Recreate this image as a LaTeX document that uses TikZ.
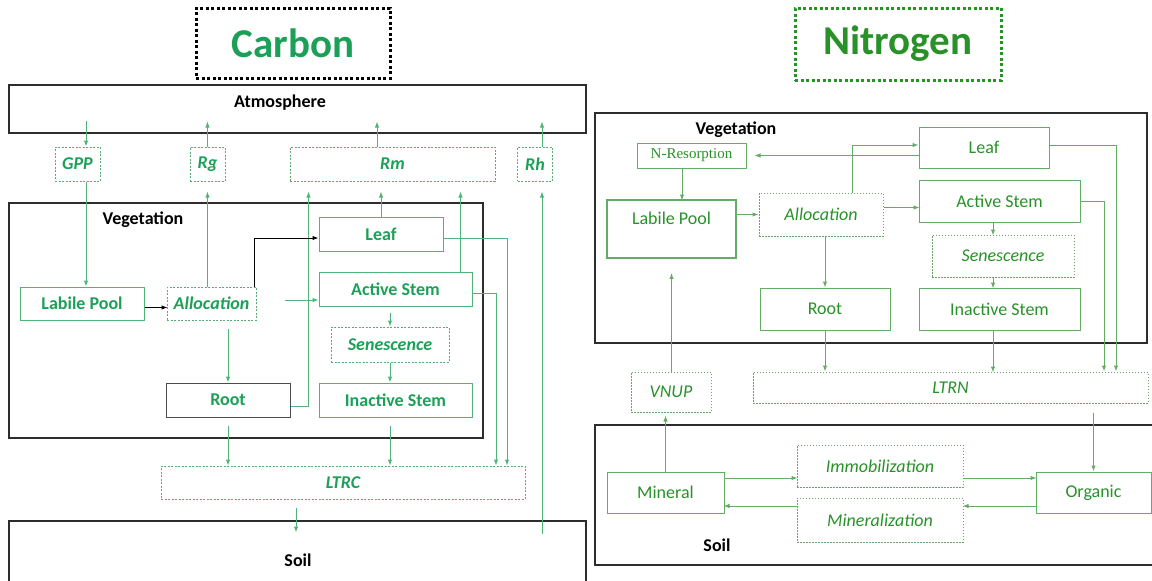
\documentclass[tikz,border=0pt]{standalone}
\usepackage{fontspec}
\setmainfont{Carlito}
\newfontfamily\serifN{Liberation Serif}
\usepackage{tikz}
\usetikzlibrary{positioning, arrows.meta}

\definecolor{cgreen}{RGB}{28,160,88}
\definecolor{cline}{RGB}{80,180,120}
\definecolor{ngreen}{RGB}{40,145,40}
\definecolor{nline}{RGB}{100,172,100}
\definecolor{regionline}{RGB}{45,45,45}

\begin{document}
\begin{tikzpicture}[x=1pt, y=-1pt,
    region/.style={draw=regionline, line width=1.8pt, inner sep=0pt},
    regtext/.style={font=\fontsize{18}{20}\selectfont\bfseries, text=black},
    cpool/.style={draw=cline, line width=1pt, inner sep=0pt, text=cgreen, font=\fontsize{18}{20}\selectfont\bfseries},
    cflux/.style={cpool, draw=cline!80!gray, dash pattern=on 2pt off 1.5pt, font=\fontsize{18}{20}\selectfont\bfseries\itshape},
    npool/.style={draw=nline, line width=1pt, inner sep=0pt, text=ngreen, font=\fontsize{18}{20}\selectfont},
    nflux/.style={npool, draw=nline!80!gray, dash pattern=on 1.5pt off 1.5pt, font=\fontsize{18}{20}\selectfont\itshape},
    carrow/.style={draw=cline, line width=1pt, -{Latex[length=6pt,width=4.5pt]}},
    karrow/.style={draw=black, line width=1pt, -{Latex[length=6pt,width=4.5pt]}},
    narrow/.style={draw=nline, line width=1pt, -{Latex[length=6pt,width=4.5pt]}},
    title/.style={line width=3pt, dash pattern=on 3pt off 2.5pt, inner sep=0pt, font=\fontsize{41}{44}\selectfont\bfseries},
    sz/.style 2 args={minimum width=#1pt, minimum height=#2pt}
]
\useasboundingbox (0,0) rectangle (1152,581);

% Carbono: cajas grandes
\node[title, draw=black, text=cgreen, sz={194}{70}] (ctitle) at (293,43) {Carbon};
\node[region, sz={577}{48}] (atm) at (297.5,109) {};
\node[regtext] (atmtext) at (280,103) {Atmosphere};
\node[region, sz={474}{235}] (cveg) at (246,320.5) {};
\node[regtext] (cvegtext) at (143,220) {Vegetation};
\node[region, sz={577}{90}] (csoil) at (297.5,566) {};
\node[regtext] (csoiltext) at (298,560) {Soil};

% Carbono: flujos y reservorios
\node[cflux, sz={45}{34}] (gpp) at (77.5,164) {GPP};
\node[cflux, sz={35}{34}] (rg) at (207.5,164) {Rg};
\node[cflux, sz={205}{34}] (rm) at (392.5,164) {Rm};
\node[cflux, sz={35}{34}] (rh) at (535,164) {Rh};
\node[cpool, sz={124}{33}] (labile) at (82,303.5) {Labile Pool};
\node[cflux, sz={89}{33}] (alloc) at (211.5,303.5) {Allocation};
\node[cpool, sz={124}{34}] (leaf) at (381,234) {Leaf};
\node[cpool, sz={153}{34}] (astem) at (395.5,289) {Active Stem};
\node[cflux, sz={118}{35}] (senes) at (390,344.5) {Senescence};
\node[cpool, draw=regionline!85, sz={124}{34}] (root) at (228,400) {Root};
\node[cpool, sz={153}{34}] (istem) at (395.5,400) {Inactive Stem};
\node[cflux, sz={364}{33}] (ltrc) at (343,482.5) {LTRC};

% Carbono: flechas
\coordinate (gppin) at (86,121);
\draw[carrow] (gppin) -- (gppin |- gpp.north);
\draw[carrow] (gppin |- gpp.south) -- (gppin |- labile.north);
\draw[carrow] (rg.north) -- ++(0,-25);
\draw[carrow] ([xshift=-15.5pt]rm.north) -- ++(0,-25);
\draw[carrow] ([xshift=7pt]rh.north) -- ++(0,-25);
\coordinate (rglow) at ([yshift=-10pt]rg.south);
\coordinate (rmlow) at ([yshift=-10pt]rm.south);
\coordinate (rhlow) at ([xshift=7pt, yshift=-10pt]rh.south);
\draw[carrow] (rglow |- alloc.north) -- (rglow);
\draw[carrow] (leaf.north) -- (leaf.north |- rmlow);
\coordinate (asup) at ([xshift=-12pt]astem.north east);
\draw[carrow] (asup) -- (asup |- rmlow);
\draw[carrow] ([yshift=-6pt]root.east) -- ++(18,0) coordinate (rootx) -- (rootx |- rmlow);
\draw[carrow] (rhlow |- csoil.north) ++(0,14) -- (rhlow);
\draw[karrow] ([yshift=-4pt]labile.east) -- ++(23,0);
\draw[karrow] ([xshift=-2pt]alloc.north east) |- ([yshift=-4pt]leaf.west);
\draw[carrow] ([yshift=-11pt]astem.west) ++(-34,0) -- ([yshift=-11pt]astem.west);
\draw[carrow, shorten <=6pt] (senes.north |- astem.south) -- (senes.north);
\draw[carrow] (senes.south) -- (senes.south |- istem.north);
\draw[carrow, shorten <=8pt] (root.north |- alloc.south) -- (root.north);
\draw[carrow, shorten <=8pt] (root.south) -- (root.south |- ltrc.north);
\draw[carrow, shorten <=8pt] (senes.south |- istem.south) -- (senes.south |- ltrc.north);
\coordinate (lt1) at ([xshift=153pt]ltrc.north);
\coordinate (lt2) at ([xshift=164pt]ltrc.north);
\draw[carrow] ([yshift=-4pt]astem.east) -| (lt1);
\draw[carrow] ([yshift=-4pt]leaf.east) -| (lt2);
\draw[carrow] ([xshift=-47pt, yshift=-8pt]ltrc.south) -- ++(0,25);

% Nitrogeno: cajas grandes
\node[title, draw=ngreen, text=ngreen, sz={206}{72}] (ntitle) at (898,44) {Nitrogen};
\node[region, sz={552}{230}] (nveg) at (871,228) {};
\node[regtext] (nvegtext) at (736,130) {Vegetation};
\node[region, sz={560}{140}] (nsoil) at (875,495) {};
\node[regtext] (nsoiltext) at (717,545) {Soil};

% Nitrogeno: flujos y reservorios
\node[npool, font=\serifN\fontsize{15}{17}\selectfont, sz={109}{25}] (nres) at (691.5,155.5) {N-Resorption};
\node[npool, sz={130}{41}] (nleaf) at (984,147.5) {Leaf};
\node[npool, sz={161}{42}] (nastem) at (999.5,201) {Active Stem};
\node[npool, line width=1.8pt, sz={129}{58}] (nlabile) at (671.5,229) {};
\node[text=ngreen, font=\fontsize{18}{20}\selectfont] (nlabiletext) at ([yshift=11pt]nlabile.center) {Labile Pool};
\node[nflux, sz={124}{43}] (nalloc) at (821,214.5) {Allocation};
\node[nflux, sz={142}{42}] (nsenes) at (1003,256) {Senescence};
\node[npool, sz={161}{42}] (nistem) at (999.5,309) {Inactive Stem};
\node[npool, sz={130}{42}] (nroot) at (825,309) {Root};
\node[nflux, sz={395}{31}] (ltrn) at (950.5,387.5) {LTRN};
\node[nflux, sz={80}{40}] (vnup) at (671,392) {VNUP};
\node[npool, sz={117}{41}] (mineral) at (665.5,492.5) {Mineral};
\node[npool, sz={115}{41}] (organic) at (1093.5,492.5) {Organic};
\node[nflux, sz={166}{42}] (immob) at (880,466) {Immobilization};
\node[nflux, sz={166}{44}] (minz) at (880,520) {Mineralization};

% Nitrogeno: flechas
\draw[narrow] ([xshift=31pt]nalloc.north) |- ([yshift=2.5pt]nleaf.west);
\draw[narrow, shorten >=8pt] (nleaf.west |- nres.east) -- (nres.east);
\draw[narrow] ([xshift=-9.5pt]nres.south) -- ++(0,32);
\draw[narrow] (nalloc.west -| nlabile.east) -- (nalloc.west);
\draw[narrow] ([yshift=7pt]nalloc.east) -- ++(36,0);
\draw[narrow] ([xshift=-6.5pt]nastem.south) -- ++(0,13);
\draw[narrow] ([xshift=-10pt]nsenes.south) -- ++(0,11);
\draw[narrow] (nroot.north |- nalloc.south) -- (nroot.north);
\coordinate (ln1) at ([xshift=153.5pt]ltrn.north);
\coordinate (ln2) at ([xshift=165.5pt]ltrn.north);
\draw[narrow] (nastem.east) -| (ln1);
\draw[narrow] ([yshift=2.5pt]nleaf.east) -| (ln2);
\draw[narrow] (nroot.south) -- (nroot.south |- ltrn.north);
\draw[narrow] ([xshift=-6.5pt]nistem.south) -- ++(0,42);
\coordinate (nlablow) at ([yshift=-14pt]nlabile.south);
\draw[narrow] (nlablow |- vnup.north) -- (nlablow);
\draw[narrow, shorten >=3pt] (mineral.north) -- (mineral.north |- vnup.south);
\draw[narrow, shorten <=9pt] (organic.north |- ltrn.south) -- (organic.north);
\draw[narrow] ([yshift=14.5pt]mineral.east) -- ++(73,0);
\draw[narrow] ([yshift=-12pt]immob.east) -- ++(73,0);
\draw[narrow] ([yshift=-13.5pt]organic.west) -- ++(-73,0);
\draw[narrow] ([yshift=14pt]minz.west) -- ++(-73,0);
\end{tikzpicture}
\end{document}
